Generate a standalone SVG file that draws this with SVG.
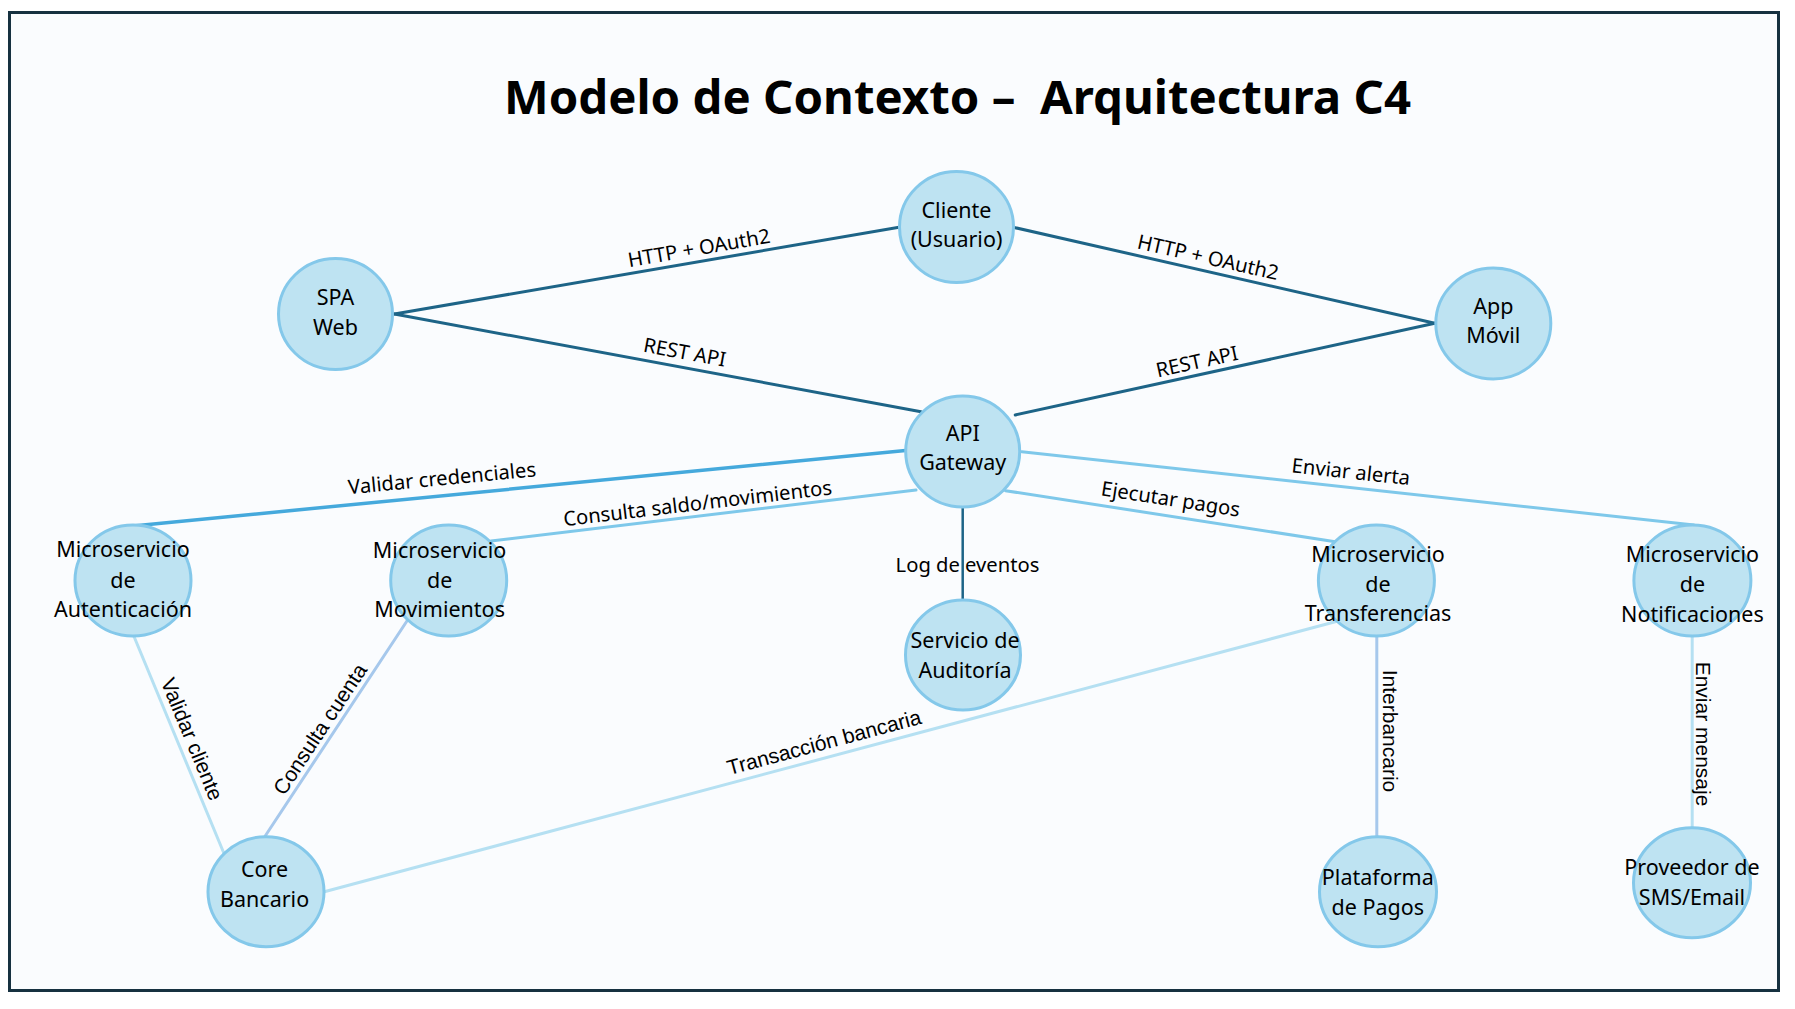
<svg xmlns="http://www.w3.org/2000/svg" width="1795" height="1009" viewBox="0 0 1795 1009">
<style>
.node ellipse{fill:#bee3f2;stroke:#84c8ea;stroke-width:3}
.node text{font-family:"Noto Sans","Liberation Sans",sans-serif;font-size:21.5px;fill:#000;text-anchor:middle}
.c line{fill:none;stroke-linecap:round}
.dark{stroke:#1d6487;stroke-width:3}
.bright{stroke:#45a9dc;stroke-width:3.5}
.mid{stroke:#7ec8ea;stroke-width:3}
.pale{stroke:#b5e0f2;stroke-width:3}
.peri{stroke:#a6c8ec;stroke-width:3}
.lbl{font-family:"Noto Sans","Liberation Sans",sans-serif;font-size:20.2px;fill:#000;text-anchor:middle}
.lbl2{font-family:"Liberation Sans",Arial,sans-serif;font-size:21px;fill:#000;text-anchor:middle}
</style>
<rect x="0" y="0" width="1795" height="1009" fill="#ffffff"/>
<rect x="9.5" y="12.5" width="1769" height="978" fill="#fafcfe" stroke="#163140" stroke-width="3"/>
<text x="957.5" y="114" textLength="907" lengthAdjust="spacingAndGlyphs" style="white-space:pre" font-family="'Noto Sans','Liberation Sans',sans-serif" font-weight="bold" font-size="47" text-anchor="middle" fill="#000">Modelo de Contexto –  Arquitectura C4</text>

<g id="connectors" class="c">
<line class="dark" x1="394.4" y1="314" x2="899" y2="227.3"/>
<line class="dark" x1="394.4" y1="314" x2="921" y2="411.7"/>
<line class="dark" x1="1015.2" y1="227.7" x2="1434.8" y2="323.3"/>
<line class="dark" x1="1015.2" y1="415" x2="1434.8" y2="323.3"/>
<line class="bright" x1="133" y1="526" x2="905.5" y2="450.5"/>
<line class="mid" x1="491" y1="541" x2="916" y2="490"/>
<line class="dark" x1="962.7" y1="507" x2="962.7" y2="600" style="stroke-width:2.5"/>
<line class="mid" x1="1005.5" y1="490.7" x2="1335.2" y2="541.7"/>
<line class="mid" x1="1021.8" y1="451.7" x2="1693.9" y2="525"/>
<line class="pale" x1="133.8" y1="636" x2="223.9" y2="853.3"/>
<line class="peri" x1="407.6" y1="620" x2="265.2" y2="836"/>
<line class="pale" x1="324.3" y1="891.7" x2="1335.2" y2="621.7"/>
<line class="peri" x1="1376.8" y1="636" x2="1376.8" y2="836.7"/>
<line class="pale" x1="1692.2" y1="636" x2="1692.2" y2="827.7"/>
</g>

<g id="node-cliente" class="node"><ellipse cx="956.5" cy="227" rx="57" ry="55.5"/><text x="956.5" y="218">Cliente</text><text x="956.5" y="247">(Usuario)</text></g>
<g id="node-spa" class="node"><ellipse cx="335.5" cy="314" rx="57" ry="55.5"/><text x="335.5" y="305">SPA</text><text x="335.5" y="335">Web</text></g>
<g id="node-app" class="node"><ellipse cx="1493.3" cy="323.5" rx="57.5" ry="55.5"/><text x="1493.3" y="314">App</text><text x="1493.3" y="343.3">Móvil</text></g>
<g id="node-api" class="node"><ellipse cx="962.7" cy="451.5" rx="57" ry="55.5"/><text x="962.7" y="440.7">API</text><text x="962.7" y="470">Gateway</text></g>
<g id="node-auth" class="node"><ellipse cx="133" cy="580.5" rx="58" ry="55.5"/><text x="123" y="557">Microservicio</text><text x="123" y="588">de</text><text x="123" y="617">Autenticación</text></g>
<g id="node-mov" class="node"><ellipse cx="448.7" cy="580.5" rx="58" ry="55.5"/><text x="439.6" y="558">Microservicio</text><text x="439.6" y="588">de</text><text x="439.6" y="617">Movimientos</text></g>
<g id="node-audit" class="node"><ellipse cx="963" cy="655" rx="57.5" ry="55"/><text x="965" y="647.7">Servicio de</text><text x="965" y="677.7">Auditoría</text></g>
<g id="node-transf" class="node"><ellipse cx="1376.4" cy="580.5" rx="58" ry="55.5"/><text x="1378" y="561.7">Microservicio</text><text x="1378" y="591.7">de</text><text x="1378" y="620.5">Transferencias</text></g>
<g id="node-notif" class="node"><ellipse cx="1692.4" cy="580.5" rx="58.5" ry="55.5"/><text x="1692.4" y="561.7">Microservicio</text><text x="1692.4" y="591.7">de</text><text x="1692.4" y="621.7">Notificaciones</text></g>
<g id="node-core" class="node"><ellipse cx="266" cy="891.7" rx="58" ry="55"/><text x="264.6" y="876.7">Core</text><text x="264.6" y="906.7">Bancario</text></g>
<g id="node-pagos" class="node"><ellipse cx="1378" cy="891.7" rx="58.5" ry="55"/><text x="1377.8" y="885">Plataforma</text><text x="1377.8" y="915">de Pagos</text></g>
<g id="node-sms" class="node"><ellipse cx="1692" cy="882.7" rx="58.5" ry="55"/><text x="1692" y="875.3">Proveedor de</text><text x="1692" y="905">SMS/Email</text></g>

<g id="connector-labels">
<text class="lbl" transform="translate(699,248) rotate(-9.8)" y="7">HTTP + OAuth2</text>
<text class="lbl" transform="translate(684.7,352.3) rotate(10.5)" y="7">REST API</text>
<text class="lbl" transform="translate(1208,257.3) rotate(12.8)" y="7">HTTP + OAuth2</text>
<text class="lbl" transform="translate(1197,361.7) rotate(-12.3)" y="7">REST API</text>
<text class="lbl" transform="translate(442,478.3) rotate(-5.5)" y="7">Validar credenciales</text>
<text class="lbl" transform="translate(697.5,503.3) rotate(-6.8)" y="7">Consulta saldo/movimientos</text>
<text class="lbl" transform="translate(967.5,565)" y="7">Log de eventos</text>
<text class="lbl" transform="translate(1170.7,499) rotate(8.8)" y="7">Ejecutar pagos</text>
<text class="lbl" transform="translate(1351,471.7) rotate(6.2)" y="7">Enviar alerta</text>
<text class="lbl2" transform="translate(192.3,739) rotate(67.5)" y="7.5">Validar cliente</text>
<text class="lbl2" transform="translate(319.8,729) rotate(-56.6)" y="7.5">Consulta cuenta</text>
<text class="lbl2" transform="translate(824,742) rotate(-15)" y="7.5">Transacción bancaria</text>
<text class="lbl2" transform="translate(1390,731) rotate(90)" y="7.5">Interbancario</text>
<text class="lbl2" transform="translate(1703,734) rotate(90)" y="7.5">Enviar mensaje</text>
</g>
</svg>
